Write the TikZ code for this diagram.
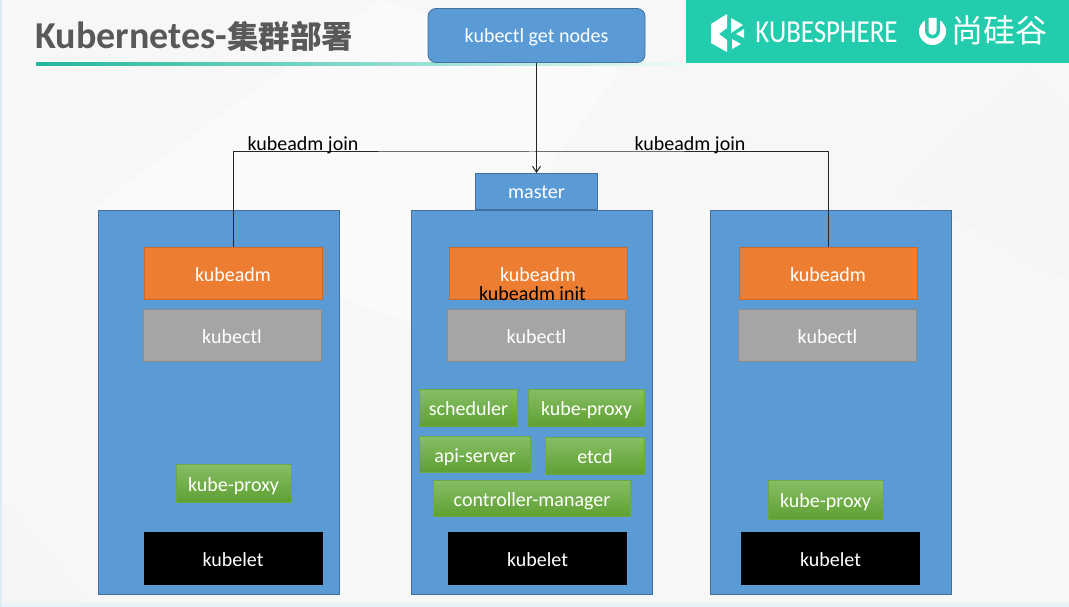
\documentclass[tikz,border=0pt]{standalone}
\usepackage{fontspec}
\setmainfont{Carlito}
\newfontfamily\cjkfont{Noto Sans CJK SC}
\usetikzlibrary{arrows.meta}
\definecolor{boxblue}{HTML}{5B9BD5}
\definecolor{boxedge}{HTML}{41719C}
\definecolor{boxorange}{HTML}{ED7D31}
\definecolor{boxgray}{HTML}{A5A5A5}
\definecolor{brandteal}{HTML}{24CCAE}
\definecolor{parttop}{HTML}{86BE64}
\definecolor{partbottom}{HTML}{5EA032}
\definecolor{partedge}{HTML}{6BA843}

\begin{document}
\begin{tikzpicture}[x=1pt,y=-1pt,->,>={Straight Barb[length=6pt,width=8pt]},line width=0.8pt]
  \tikzstyle{every node}=[inner sep=0pt,text=white,text height=16pt,text depth=1pt,font=\fontsize{20}{22}\selectfont]
  \tikzstyle{machine}=[draw=boxedge,fill=boxblue,minimum width=241pt,minimum height=384pt]
  \tikzstyle{tool}=[draw=#1!85!black,fill=#1,minimum width=178pt,minimum height=52pt]
  \tikzstyle{part}=[draw=partedge,top color=parttop,bottom color=partbottom,minimum height=37pt]
  \tikzstyle{plain}=[text=black]
  \tikzstyle{link}=[line width=1pt,draw=black!85]

  % slide
  \useasboundingbox (0,0) rectangle (1069,607);
  \fill[black!3,draw=none] (0,0) rectangle (1069,607);
  \fill[black!2,draw=none] (380,0) -- (620,70) -- (430,330) -- (90,210) -- cycle;
  \fill[black!4,draw=none] (1030,70) -- (1069,110) -- (1069,280) -- (900,190) -- cycle;
  \fill[black!4,draw=none] (0,500) -- (90,607) -- (0,607) -- cycle;
  \fill[black!25!cyan!10,draw=none] (0,603) rectangle (1069,607);
  \fill[black!30!cyan!15,draw=none] (0,0) rectangle (1.5,607);

  % header
  \shade[left color=brandteal!90!black,right color=brandteal!8,draw=none] (36,63) rectangle (686,65.5);
  \fill[brandteal,draw=none] (686,0) rectangle (1069,63);
  \node[anchor=west,text=black!65,text height=30pt,text depth=4pt,font=\fontsize{38}{42}\selectfont\bfseries] (title) at (35,36)
    {Kubernetes-{\cjkfont\fontsize{31.5}{40}\selectfont 集群部署}};
  \fill[white,draw=none] (727,14) -- (727,28) -- (719,34) -- (727,40) -- (727,52) -- (711,43) -- (711,24) -- cycle;
  \fill[white,draw=none] (731,18) -- (743,25) -- (731,33) -- cycle;
  \fill[white,draw=none] (744,29) -- (744,38) -- (736,34) -- cycle;
  \fill[white,draw=none] (732,39) -- (741,44) -- (732,49) -- cycle;
  \node[anchor=west,text height=22pt,text depth=2pt,font=\fontsize{32}{34}\selectfont] (brand) at (755,32.5) {\scalebox{.84}[1]{KUBESPHERE}};
  \fill[white,draw=none] (932.5,31.5) circle (13.5pt);
  \fill[brandteal,draw=none] (925,18) rectangle (940,31) (932.5,31) circle (7.5pt);
  \fill[white,draw=none] (928.5,18) rectangle (936.5,31) (932.5,31) circle (4pt);
  \node[anchor=west,text height=28pt,text depth=4pt,font=\cjkfont\fontsize{32}{34}\selectfont] (school) at (951,31) {尚硅谷};

  % cluster
  \node[machine] (workerL) at (218.5,402.5) {};
  \node[machine] (workerM) at (531.5,402.5) {};
  \node[machine] (workerR) at (830.5,402.5) {};
  \node[draw=boxedge,fill=boxblue,minimum width=122pt,minimum height=36pt] (master) at (536.5,191.5) {master};
  \node[draw=boxedge,fill=boxblue,rounded corners=8pt,minimum width=217pt,minimum height=54pt] (get) at (536.5,35.5) {kubectl get nodes};

  \node[tool=boxorange] (admL) at (233,273.5) {kubeadm};
  \node[tool=boxorange] (admM) at (538,273.5) {kubeadm};
  \node[tool=boxorange] (admR) at (828,273.5) {kubeadm};
  \node[tool=boxgray] (ctlL) at (232,335.5) {kubectl};
  \node[tool=boxgray] (ctlM) at (536.5,335.5) {kubectl};
  \node[tool=boxgray] (ctlR) at (827.5,335.5) {kubectl};
  \node[tool=black] (letL) at (233,558.5) {kubelet};
  \node[tool=black] (letM) at (537.5,558.5) {kubelet};
  \node[tool=black] (letR) at (830.5,558.5) {kubelet};

  \node[part,minimum width=115pt,minimum height=38pt] (proxyL) at (233.5,483.5) {kube-proxy};
  \node[part,minimum width=115pt,minimum height=39pt] (proxyR) at (825.5,500) {kube-proxy};
  \node[part,minimum width=98pt] (sched) at (468.5,408) {scheduler};
  \node[part,minimum width=116pt] (proxyM) at (586.5,408) {kube-proxy};
  \node[part,minimum width=111pt,minimum height=36pt] (api) at (475,454.5) {api-server};
  \node[part,minimum width=99pt] (etcd) at (595,456) {etcd};
  \node[part,minimum width=197pt,minimum height=36pt] (ctrl) at (532,498.5) {controller-manager};

  \node[plain] (init) at (532.5,293) {kubeadm init};

  % links
  \coordinate (bus) at (532,152);
  \draw[link,-] (admL.north) |- (bus) -| (admR.north);
  \draw[link] (get.south) -- (master.north);
  \node[plain] (joinL) at (303,143) {kubeadm join};
  \node[plain] (joinR) at (690,143) {kubeadm join};
\end{tikzpicture}
\end{document}
